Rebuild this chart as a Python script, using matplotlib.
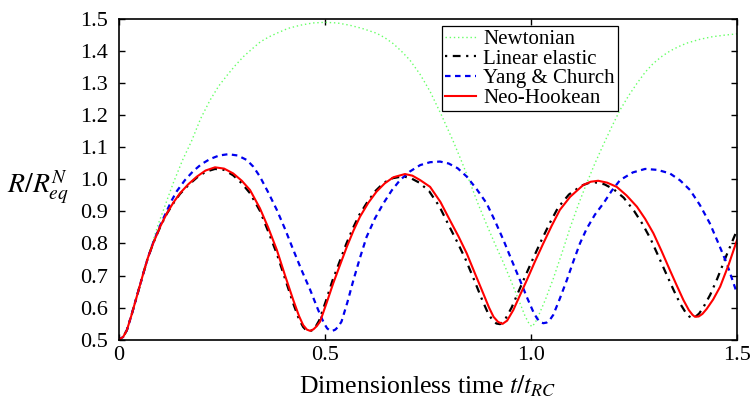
import matplotlib.pyplot as plt

plt.rcParams["font.family"] = ["Liberation Serif", "DejaVu Serif"]
plt.rcParams["mathtext.fontset"] = "stix"

# Newtonian (green dotted)
t_newt = [0, 0.01, 0.019, 0.03, 0.043, 0.059, 0.07, 0.083, 0.095, 0.108,
          0.12, 0.132, 0.154, 0.176, 0.198, 0.221, 0.242, 0.262, 0.282, 0.302,
          0.323, 0.343, 0.363, 0.383, 0.41, 0.44, 0.47, 0.5, 0.53, 0.56,
          0.59, 0.625, 0.645, 0.666, 0.686, 0.706, 0.731, 0.755, 0.783, 0.811,
          0.832, 0.852, 0.872, 0.892, 0.912, 0.933, 0.953, 0.973, 0.985, 0.995,
          1.002, 1.01, 1.02, 1.035, 1.054, 1.075, 1.095, 1.115, 1.135, 1.155,
          1.176, 1.196, 1.216, 1.237, 1.257, 1.277, 1.297, 1.318, 1.338, 1.358,
          1.378, 1.41, 1.44, 1.47, 1.5]
r_newt = [0.5, 0.508, 0.529, 0.575, 0.634, 0.71, 0.758, 0.81, 0.86, 0.905,
          0.948, 0.99, 1.06, 1.12, 1.19, 1.248, 1.292, 1.325, 1.356, 1.384,
          1.408, 1.43, 1.445, 1.457, 1.472, 1.482, 1.489, 1.491, 1.489, 1.482,
          1.472, 1.457, 1.443, 1.424, 1.4, 1.373, 1.328, 1.275, 1.2, 1.12,
          1.055, 0.99, 0.922, 0.86, 0.8, 0.74, 0.678, 0.614, 0.575, 0.55,
          0.54, 0.552, 0.58, 0.625, 0.69, 0.77, 0.85, 0.922, 0.988, 1.05,
          1.11, 1.165, 1.217, 1.262, 1.3, 1.335, 1.363, 1.385, 1.402, 1.415,
          1.426, 1.438, 1.446, 1.451, 1.455]

# Linear elastic (black dash-dot)
t_lin = [0, 0.01, 0.019, 0.03, 0.043, 0.059, 0.07, 0.083, 0.1, 0.116,
         0.132, 0.148, 0.168, 0.189, 0.21, 0.233, 0.255, 0.277, 0.298, 0.318,
         0.342, 0.362, 0.383, 0.403, 0.423, 0.437, 0.447, 0.455, 0.462, 0.47,
         0.478, 0.486, 0.502, 0.518, 0.535, 0.551, 0.567, 0.583, 0.603, 0.623,
         0.643, 0.664, 0.69, 0.71, 0.729, 0.753, 0.778, 0.801, 0.822, 0.842,
         0.862, 0.882, 0.895, 0.906, 0.916, 0.925, 0.936, 0.953, 0.969, 0.986,
         1.006, 1.026, 1.046, 1.066, 1.092, 1.123, 1.14, 1.155, 1.178, 1.2,
         1.225, 1.25, 1.27, 1.29, 1.31, 1.33, 1.347, 1.362, 1.375, 1.384,
         1.39, 1.399, 1.408, 1.418, 1.435, 1.452, 1.475, 1.5]
r_lin = [0.5, 0.508, 0.529, 0.575, 0.634, 0.707, 0.755, 0.801, 0.852, 0.893,
         0.926, 0.955, 0.982, 1.006, 1.024, 1.033, 1.03, 1.013, 0.988, 0.957,
         0.902, 0.838, 0.768, 0.69, 0.612, 0.563, 0.539, 0.528, 0.525, 0.53,
         0.542, 0.56, 0.62, 0.684, 0.742, 0.797, 0.846, 0.889, 0.93, 0.965,
         0.99, 1.004, 1.01, 1.003, 0.99, 0.963, 0.915, 0.855, 0.802, 0.748,
         0.686, 0.622, 0.584, 0.561, 0.55, 0.548, 0.56, 0.6, 0.648, 0.698,
         0.756, 0.812, 0.865, 0.913, 0.953, 0.981, 0.989, 0.991, 0.985, 0.97,
         0.943, 0.902, 0.862, 0.815, 0.758, 0.7, 0.652, 0.612, 0.585, 0.572,
         0.568, 0.571, 0.581, 0.6, 0.64, 0.69, 0.765, 0.842]

# Yang & Church (blue dashed)
t_yc = [0, 0.01, 0.019, 0.03, 0.043, 0.059, 0.07, 0.083, 0.1, 0.116,
        0.128, 0.14, 0.16, 0.18, 0.2, 0.221, 0.243, 0.265, 0.288, 0.31,
        0.326, 0.342, 0.362, 0.383, 0.403, 0.423, 0.443, 0.464, 0.48, 0.49,
        0.498, 0.505, 0.512, 0.518, 0.525, 0.532, 0.54, 0.554, 0.569, 0.585,
        0.601, 0.621, 0.642, 0.662, 0.682, 0.706, 0.731, 0.755, 0.779, 0.8,
        0.822, 0.844, 0.868, 0.892, 0.912, 0.933, 0.953, 0.973, 0.99, 1.006,
        1.015, 1.023, 1.03, 1.038, 1.046, 1.054, 1.07, 1.087, 1.103, 1.119,
        1.135, 1.155, 1.176, 1.196, 1.216, 1.247, 1.277, 1.307, 1.337, 1.362,
        1.386, 1.41, 1.434, 1.455, 1.475, 1.5]
r_yc = [0.5, 0.508, 0.529, 0.575, 0.634, 0.707, 0.755, 0.803, 0.857, 0.902,
        0.935, 0.963, 0.998, 1.026, 1.048, 1.064, 1.075, 1.079, 1.075, 1.061,
        1.04, 1.009, 0.96, 0.905, 0.845, 0.78, 0.717, 0.655, 0.603, 0.572,
        0.55, 0.535, 0.528, 0.527, 0.531, 0.54, 0.556, 0.615, 0.686, 0.756,
        0.821, 0.878, 0.926, 0.966, 0.998, 1.025, 1.045, 1.054, 1.056, 1.05,
        1.035, 1.009, 0.97, 0.926, 0.872, 0.811, 0.748, 0.686, 0.632, 0.585,
        0.565, 0.554, 0.551, 0.553, 0.562, 0.577, 0.628, 0.686, 0.745, 0.801,
        0.846, 0.89, 0.926, 0.965, 0.998, 1.022, 1.033, 1.03, 1.019, 0.997,
        0.967, 0.92, 0.863, 0.8, 0.738, 0.644]

# Neo-Hookean (red solid)
t_nh = [0, 0.01, 0.019, 0.03, 0.043, 0.059, 0.07, 0.083, 0.1, 0.116,
        0.132, 0.148, 0.168, 0.189, 0.21, 0.233, 0.255, 0.277, 0.298, 0.318,
        0.342, 0.362, 0.383, 0.403, 0.423, 0.437, 0.447, 0.456, 0.464, 0.472,
        0.48, 0.488, 0.504, 0.52, 0.537, 0.553, 0.569, 0.585, 0.605, 0.625,
        0.645, 0.666, 0.694, 0.712, 0.731, 0.755, 0.78, 0.803, 0.824, 0.844,
        0.864, 0.884, 0.898, 0.909, 0.92, 0.931, 0.942, 0.957, 0.973, 0.99,
        1.01, 1.03, 1.05, 1.07, 1.095, 1.127, 1.145, 1.163, 1.185, 1.208,
        1.232, 1.257, 1.277, 1.297, 1.317, 1.337, 1.354, 1.37, 1.383, 1.392,
        1.398, 1.407, 1.416, 1.426, 1.442, 1.459, 1.48, 1.5]
r_nh = [0.5, 0.508, 0.529, 0.575, 0.634, 0.707, 0.755, 0.801, 0.853, 0.894,
        0.928, 0.957, 0.985, 1.009, 1.028, 1.038, 1.034, 1.019, 0.996, 0.967,
        0.91, 0.85, 0.78, 0.7, 0.623, 0.573, 0.545, 0.531, 0.527, 0.532,
        0.542, 0.556, 0.615, 0.676, 0.735, 0.79, 0.84, 0.884, 0.927, 0.962,
        0.988, 1.007, 1.017, 1.012, 0.998, 0.977, 0.93, 0.873, 0.822, 0.769,
        0.706, 0.644, 0.6, 0.571, 0.555, 0.549, 0.559, 0.592, 0.638, 0.686,
        0.745, 0.801, 0.855, 0.905, 0.946, 0.983, 0.993, 0.996, 0.99, 0.977,
        0.95, 0.915, 0.877, 0.832, 0.776, 0.717, 0.668, 0.623, 0.592, 0.577,
        0.571, 0.572, 0.58, 0.595, 0.625, 0.665, 0.735, 0.811]

x_ticks = [0, 0.5, 1.0, 1.5]
x_labels = ["0", "0.5", "1.0", "1.5"]
y_ticks = [0.5, 0.6, 0.7, 0.8, 0.9, 1.0, 1.1, 1.2, 1.3, 1.4, 1.5]

fig = plt.figure(figsize=(7.5, 4.07), dpi=100)
ax = fig.add_axes([0.1587, 0.1658, 0.824, 0.7864])

ax.plot(t_newt, r_newt, color="#66ff66", linestyle=(0, (1, 2)), linewidth=1.0,
        label="Newtonian")
ax.plot(t_lin, r_lin, color="black", linestyle=(0, (1, 2.5, 3.5, 2.5)),
        linewidth=1.6, label="Linear elastic")
ax.plot(t_yc, r_yc, color="#0000ee", linestyle=(0, (2.5, 2)), linewidth=1.6,
        label="Yang & Church")
ax.plot(t_nh, r_nh, color="#ff0000", linestyle="-", linewidth=1.5,
        label="Neo-Hookean")

ax.set_xlim(0, 1.5)
ax.set_ylim(0.5, 1.5)
ax.set_xticks(x_ticks)
ax.set_xticklabels(x_labels)
ax.set_yticks(y_ticks)
ax.set_yticklabels(["%.1f" % v for v in y_ticks])
ax.tick_params(direction="in", top=True, right=True, length=4.5, width=1.0,
               labelsize=16)
ax.tick_params(axis="y", pad=8)
ax.tick_params(axis="x", pad=5)
for s in ax.spines.values():
    s.set_linewidth(1.2)

ax.set_xlabel(r"Dimensionless time $t/t_{RC}$", fontsize=18.5, labelpad=6)
fig.text(0.009, 0.54, r"$R/R^{N}_{eq}$", fontsize=20, va="center", ha="left")

leg = ax.legend(loc="upper left", bbox_to_anchor=(0.522, 0.978), fontsize=15,
                frameon=True, fancybox=False, framealpha=1, edgecolor="black",
                handlelength=1.5, handletextpad=0.35, borderpad=0.15,
                labelspacing=0.0, borderaxespad=0)
leg.get_frame().set_linewidth(0.9)

fig.savefig("out.png", dpi=100)
